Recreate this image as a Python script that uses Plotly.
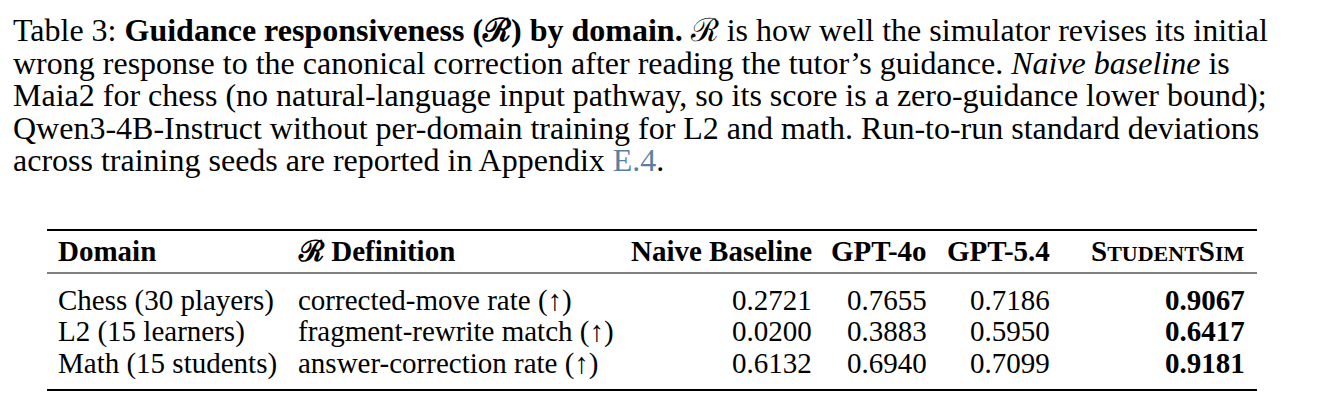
import plotly.graph_objects as go

W, H = 1318, 410
caption_lines = [
    "Table 3: <b>Guidance responsiveness (ℛ) by domain.</b> ℛ is how well the simulator revises its initial",
    "wrong response to the canonical correction after reading the tutor’s guidance. <i>Naive baseline</i> is",
    "Maia2 for chess (no natural-language input pathway, so its score is a zero-guidance lower bound);",
    "Qwen3-4B-Instruct without per-domain training for L2 and math. Run-to-run standard deviations",
    "across training seeds are reported in Appendix <span style='color:#5b7fa3'>E.4</span>.",
]
headers = ["Domain", "ℛ Definition", "Naive Baseline", "GPT-4o", "GPT-5.4",
           "S<span style='font-size:22px'>TUDENT</span>S<span style='font-size:22px'>IM</span>"]
domains = ["Chess (30 players)", "L2 (15 learners)", "Math (15 students)"]
definitions = ["corrected-move rate (↑)", "fragment-rewrite match (↑)", "answer-correction rate (↑)"]
naive = [0.2721, 0.0200, 0.6132]
gpt4o = [0.7655, 0.3883, 0.6940]
gpt54 = [0.7186, 0.5950, 0.7099]
studentsim = [0.9067, 0.6417, 0.9181]

FONT = "Liberation Serif, Times New Roman, serif"
DX, DY = -9, -8
fig = go.Figure()
fig.update_layout(width=W, height=H, margin=dict(l=0, r=0, t=0, b=0),
                  paper_bgcolor="white", plot_bgcolor="white",
                  xaxis=dict(visible=False, range=[0, W]),
                  yaxis=dict(visible=False, range=[H, 0]))

def txt(x, y, s, anchor="left", size=26):
    fig.add_annotation(x=x + DX, y=y + DY, xref="x", yref="y", text=s, showarrow=False,
                       xanchor=anchor, yanchor="middle",
                       font=dict(family=FONT, size=size, color="black"))

cap_y0, cap_dy = 30, 32.6
for i, line in enumerate(caption_lines):
    txt(12, cap_y0 + i * cap_dy, line, size=32)

col_x = [57, 297, 815, 930, 1053, 1248]
col_anchor = ["left", "left", "right", "right", "right", "right"]
TS = 29
for x, a, h in zip(col_x, col_anchor, headers):
    txt(x, 251, f"<b>{h}</b>", a, TS)

row_y = [300, 331, 363]
for i, y in enumerate(row_y):
    vals = [domains[i], definitions[i], f"{naive[i]:.4f}", f"{gpt4o[i]:.4f}",
            f"{gpt54[i]:.4f}", f"<b>{studentsim[i]:.4f}</b>"]
    for x, a, v in zip(col_x, col_anchor, vals):
        txt(x, y, v, a, TS)

for y, w in [(230, 2), (273, 1.2), (390, 2)]:
    fig.add_shape(type="line", x0=48 + DX, x1=1258 + DX, y0=y + DY, y1=y + DY,
                  xref="x", yref="y", line=dict(color="black", width=w))

fig.write_html("out.html")
